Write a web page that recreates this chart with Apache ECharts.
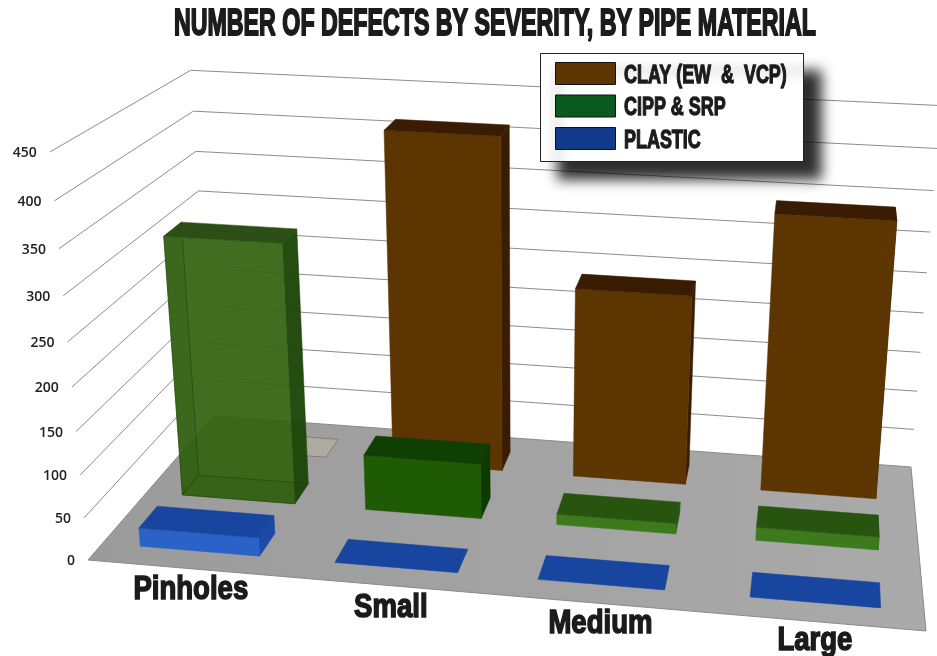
<!DOCTYPE html>
<html>
<head>
<meta charset="utf-8">
<style>html,body{margin:0;padding:0;background:#fff}#chart{width:937px;height:656px}</style>
<script src="https://cdn.jsdelivr.net/npm/echarts@6/dist/echarts.min.js"></script>
</head>
<body>
<div id="chart"></div>
<script>
// Chart values
const categories = ['Pinholes', 'Small', 'Medium', 'Large'];
const clayValues = [0, 413, 237, 340];
const cippValues = [314, 68, 13, 16];
const plasticValues = [22, 0, 0, 0];
const valueTicks = [0, 50, 100, 150, 200, 250, 300, 350, 400, 450];
const seriesNames = ['CLAY (EW  &  VCP)', 'CIPP & SRP', 'PLASTIC'];
const swatchColors = ['#5c3500', '#0a5a1e', '#123a8c'];

// Perspective box the 3-D chart is projected through
const FLOOR = { fl: [88, 560], fr: [926, 631], br: [911, 467], bl: [213, 416] };
const VANISH = [522, 5200];      // where the upright edges converge
const TOP_FRONT_Y = 152;         // screen y of the axis maximum at the front-left corner

const sx = FLOOR.fl[0] - FLOOR.fr[0] + FLOOR.br[0] - FLOOR.bl[0];
const sy = FLOOR.fl[1] - FLOOR.fr[1] + FLOOR.br[1] - FLOOR.bl[1];
const dx1 = FLOOR.fr[0] - FLOOR.br[0], dx2 = FLOOR.bl[0] - FLOOR.br[0];
const dy1 = FLOOR.fr[1] - FLOOR.br[1], dy2 = FLOOR.bl[1] - FLOOR.br[1];
const det = dx1 * dy2 - dx2 * dy1;
const wu = (sx * dy2 - dx2 * sy) / det;
const wv = (dx1 * sy - sx * dy1) / det;
const uVec = [FLOOR.fr[0] * (1 + wu) - FLOOR.fl[0], FLOOR.fr[1] * (1 + wu) - FLOOR.fl[1], wu];
const vVec = [FLOOR.bl[0] * (1 + wv) - FLOOR.fl[0], FLOOR.bl[1] * (1 + wv) - FLOOR.fl[1], wv];
const kUp = (FLOOR.fl[1] - TOP_FRONT_Y) / (TOP_FRONT_Y - VANISH[1]);

// u: along the categories, v: floor depth, h: fraction of the value axis
function project(u, v, h) {
  const X = FLOOR.fl[0] + uVec[0] * u + vVec[0] * v + kUp * VANISH[0] * h;
  const Y = FLOOR.fl[1] + uVec[1] * u + vVec[1] * v + kUp * VANISH[1] * h;
  const W = 1 + uVec[2] * u + vVec[2] * v + kUp * h;
  return [X / W, Y / W];
}

// Turns a data point into box-space fractions through the hidden cartesian axes
function toBox(api, cat, val) {
  const p = api.coord([cat, val]);
  return { u: p[0] / api.getWidth(), h: 1 - p[1] / api.getHeight() };
}

const BAND_FILL = 0.608;
const BAND_SHIFT = [-0.0005, -0.004, -0.004, -0.001];
const ROW_DEPTH = 0.137;
const ROW_FRONT = [0.755, 0.4266, 0.10];

const clayLook = { front: '#5c3500', top: '#3a1c02', side: '#3a1c02' };
const cippLooks = [
  { front: 'rgba(52,100,18,0.94)', top: 'rgba(34,72,12,0.96)', side: 'rgba(28,70,8,0.96)',
    inner: 'rgba(30,70,5,0.10)', innerLine: 'rgba(25,65,5,0.55)' },
  { front: '#1f5a05', top: '#0f3f02', side: '#0c3a02' },
  { front: '#3c7a1c', top: '#275510', side: '#275510' },
  { front: '#3c7a1c', top: '#275510', side: '#275510' }
];
const plasticLook = { front: '#2a62c8', top: '#17459f', side: '#1a4aa5' };
const emptyClayLook = { top: 'rgba(178,172,162,0.85)', line: 'rgba(120,105,90,0.7)' };

function lookFor(row, cat, val) {
  if (row === 0) return val === 0 ? emptyClayLook : clayLook;
  if (row === 1) return cippLooks[cat];
  return plasticLook;
}

function poly(points, fill, stroke) {
  return {
    type: 'polygon',
    shape: { points: points },
    style: { fill: fill, stroke: stroke || fill, lineWidth: stroke ? 1 : 0.5 }
  };
}

// One cuboid per data point; faces are painted from back to front
function boxRenderer(row) {
  return function (params, api) {
    const cat = api.value(0), val = api.value(1);
    const b = toBox(api, cat, val);
    const half = api.size([1, 0])[0] / api.getWidth() * BAND_FILL / 2;
    const mid = b.u + BAND_SHIFT[cat];
    const u0 = mid - half, u1 = mid + half;
    const v0 = ROW_FRONT[row], v1 = v0 + ROW_DEPTH, h = b.h;
    const look = lookFor(row, cat, val);
    const c = (u, v, z) => project(u, v, z);
    const faces = [];
    if (val > 0) {
      faces.push(poly([c(u1, v0, 0), c(u1, v1, 0), c(u1, v1, h), c(u1, v0, h)], look.side));
      faces.push(poly([c(u0, v0, 0), c(u1, v0, 0), c(u1, v0, h), c(u0, v0, h)], look.front));
      if (look.inner) {
        // Hidden edges show through the glassy box
        faces.push(poly([c(u0, v0, 0), c(u1, v0, 0), c(u1, v1, 0), c(u0, v1, 0)], look.inner, look.innerLine));
        faces.push(poly([c(u0, v0, 0), c(u0, v1, 0), c(u0, v1, h), c(u0, v0, h)], look.inner, look.innerLine));
      }
    }
    faces.push(poly([c(u0, v0, h), c(u1, v0, h), c(u1, v1, h), c(u0, v1, h)], look.top, look.line));
    return { type: 'group', children: faces };
  };
}

function renderFloor() {
  return {
    type: 'polygon',
    shape: { points: [project(0, 0, 0), project(1, 0, 0), project(1, 1, 0), project(0, 1, 0)] },
    style: {
      fill: {
        type: 'linear', x: 0, y: 0, x2: 1, y2: 0,
        colorStops: [{ offset: 0, color: '#9b9b9b' }, { offset: 1, color: '#aaaaaa' }]
      },
      stroke: '#8a8a8a', lineWidth: 1
    }
  };
}

// Wall gridline for one tick, with its value label at the open end
function renderTick(params, api) {
  const val = api.value(0);
  const h = 1 - api.coord([0, val])[1] / api.getHeight();
  const a = project(0, 0, h), b = project(0, 1, h), c = project(1, 1, h);
  return {
    type: 'group',
    children: [
      {
        type: 'polyline',
        shape: { points: val === 0 ? [] : [a, b, c] },
        style: { fill: 'none', stroke: '#8c8c8c', lineWidth: 1 }
      },
      {
        type: 'text',
        style: {
          text: String(val), x: a[0] - 13, y: a[1] + 1, align: 'right', verticalAlign: 'middle',
          font: '600 14px "Open Sans", sans-serif', fill: '#222'
        }
      }
    ]
  };
}

const HEAVY_FONT = '"Liberation Sans", sans-serif';
const INK = '#1c1a1b';
const LABEL_NUDGE = [[17, 3], [10, 3], [6, 1], [0, -1]];

function renderCategory(params, api) {
  const cat = api.value(0);
  const b = toBox(api, cat, 0);
  const p = project(b.u, -0.1, 0);
  return {
    type: 'text',
    x: p[0] + LABEL_NUDGE[cat][0],
    y: p[1] + LABEL_NUDGE[cat][1],
    scaleX: 0.81,
    style: {
      text: categories[cat], x: 0, y: 0, align: 'center', verticalAlign: 'middle',
      font: 'bold 34px ' + HEAVY_FONT, fill: INK, stroke: INK, lineWidth: 1.6
    }
  };
}

// Legend card with its drop shadow, swatches and condensed labels
const LEGEND_ROWS_Y = [74, 106.5, 139];
const legendGraphics = [{
  type: 'rect',
  z: 20,
  shape: { x: 540.5, y: 53.5, width: 263, height: 108 },
  style: {
    fill: '#fff', stroke: '#222', lineWidth: 1,
    shadowColor: 'rgba(0,0,0,0.82)', shadowBlur: 12, shadowOffsetX: 17, shadowOffsetY: 17
  }
}];
seriesNames.forEach((name, i) => {
  legendGraphics.push({
    type: 'rect',
    z: 21,
    shape: { x: 555.5, y: LEGEND_ROWS_Y[i] - 11.5, width: 60, height: 22 },
    style: { fill: swatchColors[i], stroke: '#111', lineWidth: 1 }
  });
  legendGraphics.push({
    type: 'text',
    z: 21,
    x: 624, y: LEGEND_ROWS_Y[i] + 1.5, scaleX: 0.69,
    style: {
      text: name, x: 0, y: 0, align: 'left', verticalAlign: 'middle',
      font: 'bold 26px ' + HEAVY_FONT, fill: INK, stroke: INK, lineWidth: 1.3
    }
  });
});

const points = (vals) => vals.map((v, i) => [i, v]);
const chart = echarts.init(document.getElementById('chart'));
chart.setOption({
  animation: false,
  backgroundColor: '#fff',
  grid: { left: 0, right: 0, top: 0, bottom: 0 },
  xAxis: { type: 'category', data: categories, show: false },
  yAxis: { type: 'value', min: 0, max: 450, interval: 50, show: false },
  graphic: [{
    type: 'text',
    x: 495, y: 25, scaleX: 0.645,
    style: {
      text: 'NUMBER OF DEFECTS BY SEVERITY, BY PIPE MATERIAL',
      x: 0, y: 0, font: 'bold 36px ' + HEAVY_FONT,
      align: 'center', verticalAlign: 'middle',
      fill: INK, stroke: INK, lineWidth: 1.9
    }
  }].concat(legendGraphics),
  series: [
    { type: 'custom', id: 'ticks', silent: true, z: 1, data: valueTicks.map(v => [v]), encode: { y: 0 }, renderItem: renderTick },
    { type: 'custom', id: 'floor', silent: true, z: 2, data: [[0]], renderItem: renderFloor },
    { type: 'custom', id: 'labels', silent: true, z: 2, data: categories.map((c, i) => [i]), encode: { x: 0 }, renderItem: renderCategory },
    { type: 'custom', name: seriesNames[0], silent: true, z: 3, data: points(clayValues), encode: { x: 0, y: 1 }, renderItem: boxRenderer(0) },
    { type: 'custom', name: seriesNames[1], silent: true, z: 4, data: points(cippValues), encode: { x: 0, y: 1 }, renderItem: boxRenderer(1) },
    { type: 'custom', name: seriesNames[2], silent: true, z: 5, data: points(plasticValues), encode: { x: 0, y: 1 }, renderItem: boxRenderer(2) }
  ]
});
</script>
</body>
</html>
